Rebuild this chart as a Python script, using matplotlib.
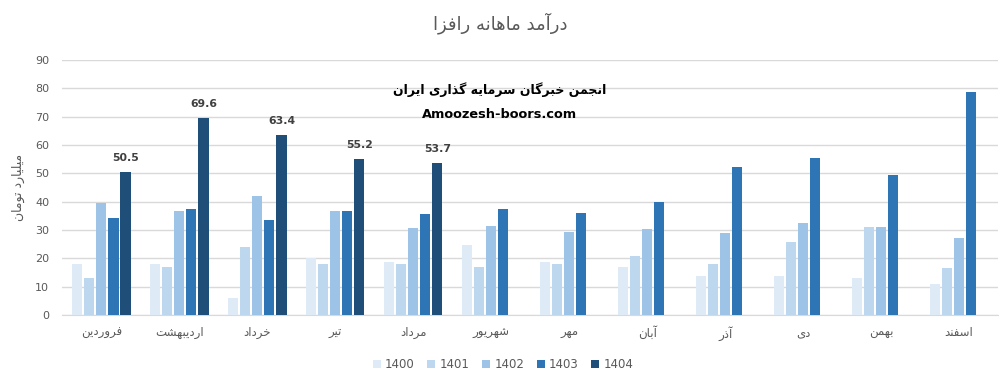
import numpy as np
import matplotlib
matplotlib.use("Agg")
import matplotlib.pyplot as plt
from matplotlib.patches import Patch

# ---------------- Data ----------------
months = ["فروردین", "اردیبهشت", "خرداد", "تیر", "مرداد", "شهریور",
          "مهر", "آبان", "آذر", "دی", "بهمن", "اسفند"]
years = ["1400", "1401", "1402", "1403", "1404"]
v1400 = [18.1, 18.1, 6.0, 20.0, 18.8, 24.9, 18.8, 17.0, 13.8, 13.8, 13.1, 11.0]
v1401 = [13.1, 17.0, 24.1, 18.1, 18.1, 17.0, 18.1, 20.9, 18.1, 25.9, 31.2, 16.6]
v1402 = [39.5, 36.6, 41.9, 36.9, 30.9, 31.6, 29.5, 30.5, 28.8, 32.6, 31.2, 27.3]
v1403 = [34.4, 37.6, 33.7, 36.6, 35.5, 37.3, 36.2, 39.8, 52.2, 55.3, 49.6, 78.6]
v1404 = [50.5, 69.6, 63.4, 55.2, 53.7, np.nan, np.nan, np.nan, np.nan, np.nan, np.nan, np.nan]
series = [v1400, v1401, v1402, v1403, v1404]
colors = ["#DEEBF7", "#BDD7EE", "#9DC3E6", "#2E75B6", "#1F4E79"]

title = "درآمد ماهانه رافزا"
ylabel = "میلیارد تومان"
wm1 = "انجمن خبرگان سرمایه گذاری ایران"
wm2 = "Amoozesh-boors.com"

# ------------- Minimal Arabic/Persian shaping -------------
FORMS = {  # isol, fina, init, medi
    "\u0627": ("\uFE8D", "\uFE8E", None, None),
    "\u0622": ("\uFE81", "\uFE82", None, None),
    "\u0628": ("\uFE8F", "\uFE90", "\uFE91", "\uFE92"),
    "\u067E": ("\uFB56", "\uFB57", "\uFB58", "\uFB59"),
    "\u062A": ("\uFE95", "\uFE96", "\uFE97", "\uFE98"),
    "\u062B": ("\uFE99", "\uFE9A", "\uFE9B", "\uFE9C"),
    "\u062C": ("\uFE9D", "\uFE9E", "\uFE9F", "\uFEA0"),
    "\u0686": ("\uFB7A", "\uFB7B", "\uFB7C", "\uFB7D"),
    "\u062D": ("\uFEA1", "\uFEA2", "\uFEA3", "\uFEA4"),
    "\u062E": ("\uFEA5", "\uFEA6", "\uFEA7", "\uFEA8"),
    "\u062F": ("\uFEA9", "\uFEAA", None, None),
    "\u0630": ("\uFEAB", "\uFEAC", None, None),
    "\u0631": ("\uFEAD", "\uFEAE", None, None),
    "\u0632": ("\uFEAF", "\uFEB0", None, None),
    "\u0698": ("\uFB8A", "\uFB8B", None, None),
    "\u0633": ("\uFEB1", "\uFEB2", "\uFEB3", "\uFEB4"),
    "\u0634": ("\uFEB5", "\uFEB6", "\uFEB7", "\uFEB8"),
    "\u0641": ("\uFED1", "\uFED2", "\uFED3", "\uFED4"),
    "\u0642": ("\uFED5", "\uFED6", "\uFED7", "\uFED8"),
    "\u06A9": ("\uFB8E", "\uFB8F", "\uFB90", "\uFB91"),
    "\u06AF": ("\uFB92", "\uFB93", "\uFB94", "\uFB95"),
    "\u0644": ("\uFEDD", "\uFEDE", "\uFEDF", "\uFEE0"),
    "\u0645": ("\uFEE1", "\uFEE2", "\uFEE3", "\uFEE4"),
    "\u0646": ("\uFEE5", "\uFEE6", "\uFEE7", "\uFEE8"),
    "\u0648": ("\uFEED", "\uFEEE", None, None),
    "\u0647": ("\uFEE9", "\uFEEA", "\uFEEB", "\uFEEC"),
    "\u06CC": ("\uFBFC", "\uFBFD", "\uFBFE", "\uFBFF"),
}


def dual(c):
    return c in FORMS and FORMS[c][2] is not None


def shape(text):
    out = []
    n = len(text)
    for i, c in enumerate(text):
        if c not in FORMS:
            out.append(c)
            continue
        prev_joins = i > 0 and dual(text[i - 1])
        next_joins = dual(c) and i + 1 < n and text[i + 1] in FORMS
        isol, fina, init, medi = FORMS[c]
        if prev_joins and next_joins:
            out.append(medi)
        elif prev_joins:
            out.append(fina)
        elif next_joins:
            out.append(init)
        else:
            out.append(isol)
    return "".join(out)[::-1]


# ---------------- Plot ----------------
plt.rcParams["font.family"] = ["DejaVu Sans"]
fig = plt.figure(figsize=(10.06, 3.82), dpi=100)
ax = fig.add_axes([0.062, 0.175, 0.93, 0.668])

x = np.arange(len(months))
pitch = 0.155
width = 0.13
for k, (vals, col) in enumerate(zip(series, colors)):
    pos = x + (k - 2) * pitch
    bars = ax.bar(pos, vals, width=width, color=col, zorder=3)
    if k == 4:
        for b, v in zip(bars, vals):
            if not np.isnan(v):
                ax.annotate(f"{v:.1f}", (b.get_x() + b.get_width() / 2, v),
                            xytext=(0, 6.5), textcoords="offset points",
                            ha="center", va="bottom", fontsize=7.8,
                            fontweight="bold", color="#404040")

ax.set_xlim(-0.5, len(months) - 0.5)
ax.set_ylim(0, 90)
ax.set_yticks(np.arange(0, 91, 10))
ax.set_xticks(x)
ax.set_xticklabels([shape(m) for m in months], fontsize=8.5, color="#595959")
ax.tick_params(axis="y", labelsize=8, labelcolor="#595959", length=0, pad=9.5)
ax.tick_params(axis="x", length=0, pad=8)
ax.grid(axis="y", color="#D9D9D9", linewidth=1, zorder=0)
for s in ["top", "right", "left"]:
    ax.spines[s].set_visible(False)
ax.spines["bottom"].set_color("#D9D9D9")
ax.set_ylabel(shape(ylabel), fontsize=9, color="#595959", labelpad=7)

fig.text(0.497, 0.94, shape(title), ha="center", va="center",
         fontsize=13, color="#595959")
fig.text(0.497, 0.765, shape(wm1), ha="center", va="center",
         fontsize=9, fontweight="bold", color="black")
fig.text(0.497, 0.70, wm2, ha="center", va="center",
         fontsize=9.3, fontweight="bold", color="black")

handles = [Patch(facecolor=c, edgecolor="none") for c in colors]
fig.legend(handles, years, loc="center", bbox_to_anchor=(0.5, 0.045),
           ncol=5, frameon=False, fontsize=8.5, labelcolor="#595959",
           handlelength=0.7, handleheight=0.7, handletextpad=0.35,
           columnspacing=1.05)

fig.savefig("out.png", dpi=100)
